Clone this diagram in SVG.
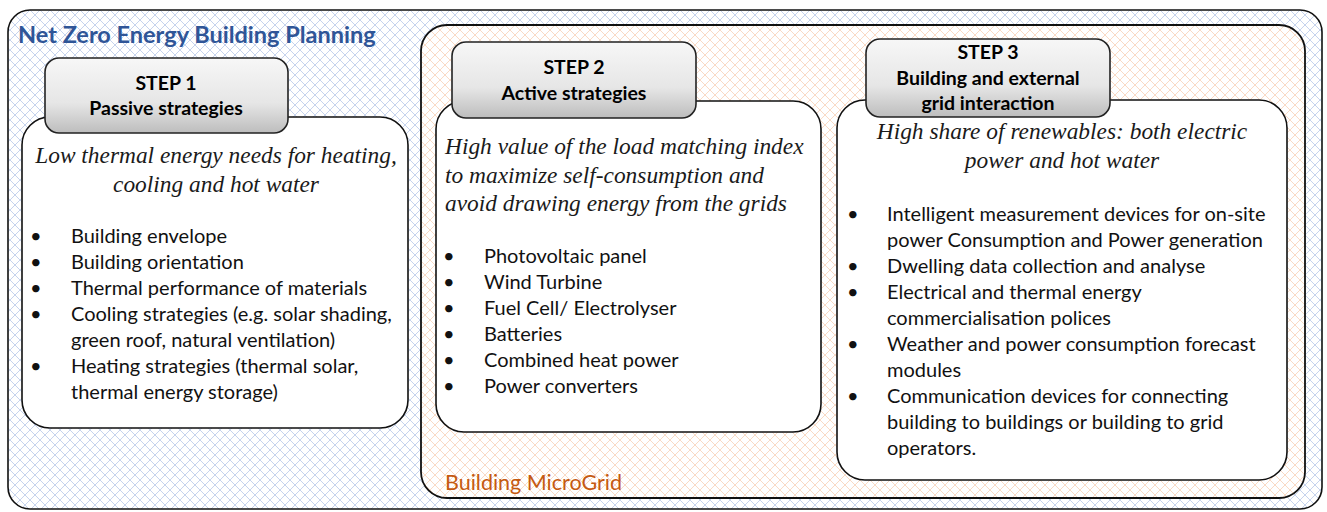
<svg xmlns="http://www.w3.org/2000/svg" width="1327" height="512" viewBox="0 0 1327 512">
<style>
.hdr{font-family:Lato,"Liberation Sans",sans-serif;font-weight:bold;font-size:19.5px;fill:#000;text-anchor:middle}
.ital{font-family:"Liberation Serif",serif;font-style:italic;font-size:23.4px;fill:#1a1a1a}
.bul{font-family:Lato,"Liberation Sans",sans-serif;font-size:20px;fill:#111}
.body{fill:#fff;stroke:#111;stroke-width:1.6}
.head{fill:url(#hg);stroke:#222;stroke-width:1.6}
</style>
<defs>
<pattern id="pb" width="10" height="10" patternUnits="userSpaceOnUse">
<rect width="10" height="10" fill="#fff"/>
<path d="M0 0L10 10M0 10L10 0" stroke="#b8c8e8" stroke-width="0.8"/>
</pattern>
<pattern id="po" width="10" height="10" patternUnits="userSpaceOnUse">
<rect width="10" height="10" fill="#fff"/>
<path d="M0 0L10 10M0 10L10 0" stroke="#f8d0b6" stroke-width="0.8"/>
</pattern>
<linearGradient id="hg" x1="0" y1="0" x2="0" y2="1">
<stop offset="0" stop-color="#f7f7f7"/>
<stop offset="0.6" stop-color="#e6e6e6"/>
<stop offset="1" stop-color="#bdbdbd"/>
</linearGradient>
</defs>
<g id="outer">
<rect x="8" y="10" width="1314" height="499" rx="22" fill="url(#pb)" stroke="#111" stroke-width="1.6"/>
<text x="18" y="43" style="font-family:Lato,'Liberation Sans',sans-serif;font-weight:bold;font-size:23.5px;fill:#2f5597">Net Zero Energy Building Planning</text>
</g>
<g id="microgrid">
<rect x="421" y="25" width="884" height="473" rx="26" fill="url(#po)" stroke="#111" stroke-width="1.8"/>
<text x="445" y="490" style="font-family:Lato,'Liberation Sans',sans-serif;font-size:21.5px;fill:#c55a11">Building MicroGrid</text>
</g>
<g id="step1">
<rect class="body" x="22" y="117" width="386" height="311" rx="28"/>
<rect class="head" x="45" y="58" width="243" height="75" rx="14"/>
<text class="hdr" x="166" y="90">STEP 1</text>
<text class="hdr" x="166" y="115">Passive strategies</text>
<text class="ital" x="216" y="163" text-anchor="middle">Low thermal energy needs for heating,</text>
<text class="ital" x="216" y="192" text-anchor="middle">cooling and hot water</text>
<g class="bul">
<text x="30" y="243">•</text><text x="71" y="243">Building envelope</text>
<text x="30" y="269">•</text><text x="71" y="269">Building orientation</text>
<text x="30" y="295">•</text><text x="71" y="295">Thermal performance of materials</text>
<text x="30" y="321">•</text><text x="71" y="321">Cooling strategies (e.g. solar shading,</text>
<text x="71" y="347">green roof, natural ventilation)</text>
<text x="30" y="373">•</text><text x="71" y="373">Heating strategies (thermal solar,</text>
<text x="71" y="399">thermal energy storage)</text>
</g>
</g>
<g id="step2">
<rect class="body" x="436" y="101" width="385" height="331" rx="28"/>
<rect class="head" x="452" y="42" width="244" height="76" rx="14"/>
<text class="hdr" x="574" y="74">STEP 2</text>
<text class="hdr" x="574" y="100">Active strategies</text>
<text class="ital" x="445" y="154">High value of the load matching index</text>
<text class="ital" x="445" y="183">to maximize self-consumption and</text>
<text class="ital" x="445" y="211">avoid drawing energy from the grids</text>
<g class="bul">
<text x="443" y="263">•</text><text x="484" y="263">Photovoltaic panel</text>
<text x="443" y="289">•</text><text x="484" y="289">Wind Turbine</text>
<text x="443" y="315">•</text><text x="484" y="315">Fuel Cell/ Electrolyser</text>
<text x="443" y="341">•</text><text x="484" y="341">Batteries</text>
<text x="443" y="367">•</text><text x="484" y="367">Combined heat power</text>
<text x="443" y="393">•</text><text x="484" y="393">Power converters</text>
</g>
</g>
<g id="step3">
<rect class="body" x="837" y="100" width="450" height="380" rx="28"/>
<rect class="head" x="866" y="39" width="244" height="78" rx="14"/>
<text class="hdr" x="988" y="59">STEP 3</text>
<text class="hdr" x="988" y="85">Building and external</text>
<text class="hdr" x="988" y="110">grid interaction</text>
<text class="ital" x="1062" y="139" text-anchor="middle">High share of renewables: both electric</text>
<text class="ital" x="1062" y="168" text-anchor="middle">power and hot water</text>
<g class="bul">
<text x="847" y="221">•</text><text x="887" y="221">Intelligent  measurement devices for on-site</text>
<text x="887" y="247">power Consumption and Power generation</text>
<text x="847" y="273">•</text><text x="887" y="273">Dwelling data collection and analyse</text>
<text x="847" y="299">•</text><text x="887" y="299">Electrical and thermal energy</text>
<text x="887" y="325">commercialisation polices</text>
<text x="847" y="351">•</text><text x="887" y="351">Weather and power consumption forecast</text>
<text x="887" y="377">modules</text>
<text x="847" y="403">•</text><text x="887" y="403">Communication devices for connecting</text>
<text x="887" y="429">building to buildings or building to grid</text>
<text x="887" y="455">operators.</text>
</g>
</g>
<g id="connectors"></g>
</svg>
